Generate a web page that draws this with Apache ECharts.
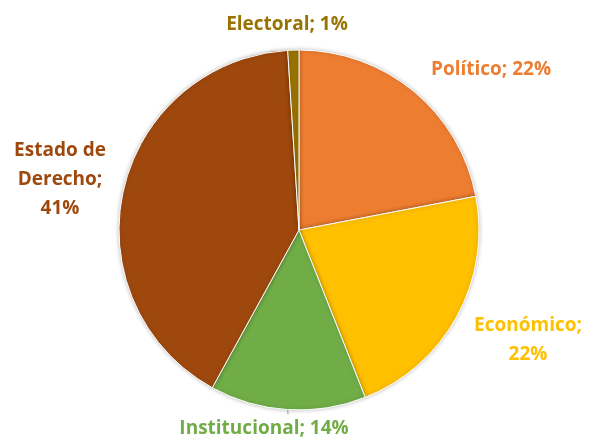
<!DOCTYPE html>
<html>
<head>
<meta charset="utf-8">
<script src="https://cdn.jsdelivr.net/npm/echarts@6/dist/echarts.min.js"></script>
<style>
    html, body { margin: 0; padding: 0; background: #fff; }
    #pie { width: 589px; height: 438px; }
</style>
</head>
<body>
<div id="pie"></div>
<script>
// datos
var categorias = ['Político', 'Económico', 'Institucional', 'Estado de Derecho', 'Electoral'];
var valores = [22, 22, 14, 41, 1];
var etiquetas = ['Político; 22%', 'Económico;\n22%', 'Institucional; 14%', 'Estado de\nDerecho;\n41%', 'Electoral; 1%'];
var colores = ['#ED7D31', '#FFC000', '#70AD47', '#9E480E', '#997300'];

// posiciones de etiquetas (x, y del centro de la caja)
var posEtiquetas = [[491, 70], [528, 340], [288, 429], [60, 180], [287, 25]];

var chart = echarts.init(document.querySelector('#pie'));

var datos = categorias.map(function (c, i) {
    var d = {
        name: c,
        value: valores[i],
        itemStyle: { color: colores[i] },
        label: { color: colores[i] },
        labelLine: { show: false }
    };
    if (i === 2) {
        // Institucional: línea guía vertical, texto desplazado a la izquierda
        d.label.padding = [0, 48, 0, 0];
        d.labelLine.show = true;
    }
    return d;
});

var option = {
    animation: false,
    series: [
        {
            type: 'pie',
            center: [299, 230],
            radius: [0, 180],
            startAngle: 90,
            clockwise: true,
            data: datos,
            itemStyle: {
                borderColor: '#fff',
                borderWidth: 1,
                shadowBlur: 4,
                shadowColor: 'rgba(0,0,0,0.25)'
            },
            label: {
                show: true,
                position: 'outside',
                formatter: function (p) {
                    return etiquetas[p.dataIndex];
                },
                fontFamily: '"Open Sans", sans-serif',
                fontSize: 19,
                fontWeight: 'bold',
                lineHeight: 29,
                align: 'center',
                overflow: 'none'
            },
            labelLine: {
                length: 12,
                length2: 0,
                lineStyle: { color: '#a6a6a6', width: 1 }
            },
            labelLayout: function (params) {
                var p = posEtiquetas[params.dataIndex];
                return {
                    x: p[0],
                    y: p[1],
                    align: 'center',
                    verticalAlign: 'middle'
                };
            }
        }
    ]
};

chart.setOption(option);

window.addEventListener('resize', function () {
    chart.resize();
});
</script>
</body>
</html>
